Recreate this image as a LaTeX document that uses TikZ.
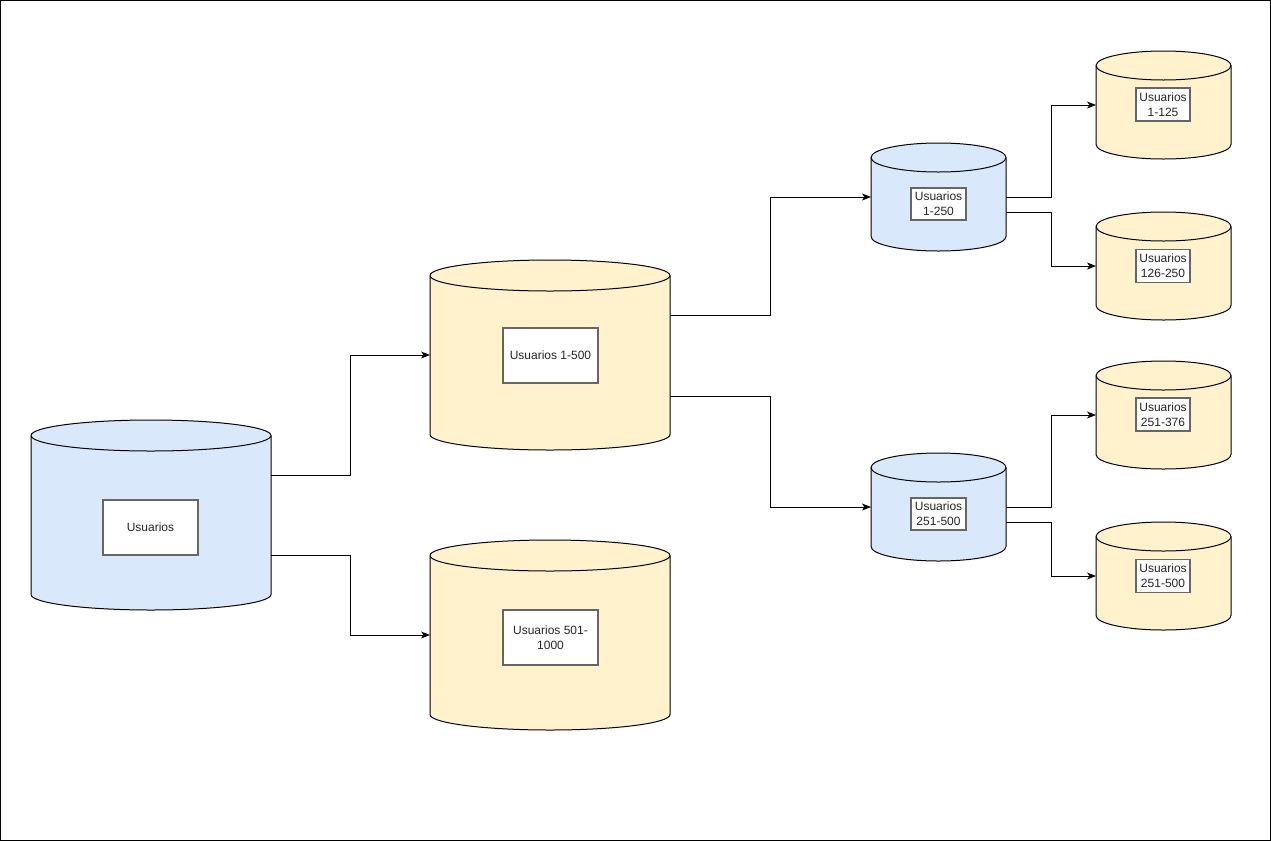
\documentclass[tikz,border=0pt]{standalone}
\usepackage{fontspec}
\setmainfont{Liberation Sans}
\usetikzlibrary{calc,arrows.meta}

\definecolor{dbblue}{HTML}{DAE8FC}
\definecolor{dbyellow}{HTML}{FFF2CC}
\definecolor{boxline}{HTML}{666666}

% Vertical database cylinder: name, left x, right x, top y, bottom y, cap radius, fill
\newcommand{\dbcyl}[7]{%
  \pgfmathsetmacro\cylrx{((#3)-(#2))/2}%
  \pgfmathsetmacro\cylcx{((#3)+(#2))/2}%
  \pgfmathsetmacro\cylcy{((#5)+(#4))/2}%
  \pgfmathsetmacro\cylw{(#3)-(#2)}%
  \pgfmathsetmacro\cylh{(#5)-(#4)}%
  \path[draw=black, line width=1pt, fill=#7]
    (#2,{(#4)+(#6)}) -- (#2,{(#5)-(#6)})
    arc[start angle=180, end angle=360, x radius=\cylrx pt, y radius=#6 pt]
    -- (#3,{(#4)+(#6)})
    arc[start angle=0, end angle=180, x radius=\cylrx pt, y radius=#6 pt]
    -- cycle;
  \draw[line width=1pt] (#2,{(#4)+(#6)})
    arc[start angle=180, end angle=360, x radius=\cylrx pt, y radius=#6 pt];
  \node[inner sep=0pt, outer sep=0pt, minimum width=\cylw pt, minimum height=\cylh pt]
    (#1) at (\cylcx,\cylcy) {};
}

\begin{document}
\begin{tikzpicture}[x=1pt, y=-1pt,
  lbl/.style={draw=boxline, line width=1.3pt, fill=white, inner sep=0pt,
    align=center, font=\fontsize{12}{15}\selectfont, text=black!85},
  conn/.style={draw=black, line width=1pt,
    -{Stealth[length=9pt, width=7pt, inset=2.5pt]}}]

  % page and frame
  \useasboundingbox (0,0) rectangle (1271,841);
  \draw[line width=1pt] (0.5,0.5) rectangle (1270.5,840.5);

  % cylinders
  \dbcyl{usu}{31}{271}{420}{610}{15.5}{dbblue}
  \dbcyl{ua}{430}{670}{260}{450}{15.5}{dbyellow}
  \dbcyl{ub}{430}{670}{540}{730}{15.5}{dbyellow}
  \dbcyl{uaa}{871}{1006}{143}{251}{14.5}{dbblue}
  \dbcyl{uab}{871}{1006}{453}{561}{14.5}{dbblue}
  \dbcyl{uaaa}{1096}{1231}{51}{159}{14.5}{dbyellow}
  \dbcyl{uaab}{1096}{1231}{212}{320}{14.5}{dbyellow}
  \dbcyl{uaba}{1096}{1231}{361}{469}{14.5}{dbyellow}
  \dbcyl{uabb}{1096}{1231}{522}{630}{14.5}{dbyellow}

  % labels
  \node[lbl, minimum width=95pt, minimum height=55pt] (l-usu) at (150.5,527.5) {Usuarios};
  \node[lbl, minimum width=95pt, minimum height=55pt] (l-ua) at (550.5,355.5) {Usuarios 1-500};
  \node[lbl, minimum width=95pt, minimum height=55pt] (l-ub) at (550.5,637.5) {Usuarios 501-\\1000};
  \node[lbl, minimum width=55pt, minimum height=32pt] (l-uaa) at (938.5,204) {Usuarios\\1-250};
  \node[lbl, minimum width=55pt, minimum height=32pt] (l-uab) at (938.5,514) {Usuarios\\251-500};
  \node[lbl, minimum width=54pt, minimum height=33pt] (l-uaaa) at (1163,104.5) {Usuarios\\1-125};
  \node[lbl, minimum width=54pt, minimum height=33pt] (l-uaab) at (1163,266) {Usuarios\\126-250};
  \node[lbl, minimum width=54pt, minimum height=33pt] (l-uaba) at (1163,414.5) {Usuarios\\251-376};
  \node[lbl, minimum width=54pt, minimum height=33pt] (l-uabb) at (1163,576) {Usuarios\\251-500};

  % connectors
  \draw[conn] ([yshift=40pt]usu.east) -| ($(usu.east)!.5!(ua.west)$) |- (ua.west);
  \draw[conn] ([yshift=-40pt]usu.east) -| ($(usu.east)!.5!(ub.west)$) |- (ub.west);
  \draw[conn] ([yshift=40pt]ua.east) -| ($(ua.east)!.5!(uaa.west)$) |- (uaa.west);
  \draw[conn] ([yshift=-41pt]ua.east) -| ($(ua.east)!.5!(uab.west)$) |- (uab.west);
  \draw[conn] (uaa.east) -| ($(uaa.east)!.5!(uaaa.west)$) |- (uaaa.west);
  \draw[conn] ([yshift=-15pt]uaa.east) -| ($(uaa.east)!.5!(uaab.west)$) |- (uaab.west);
  \draw[conn] (uab.east) -| ($(uab.east)!.5!(uaba.west)$) |- (uaba.west);
  \draw[conn] ([yshift=-15pt]uab.east) -| ($(uab.east)!.5!(uabb.west)$) |- (uabb.west);
\end{tikzpicture}
\end{document}
